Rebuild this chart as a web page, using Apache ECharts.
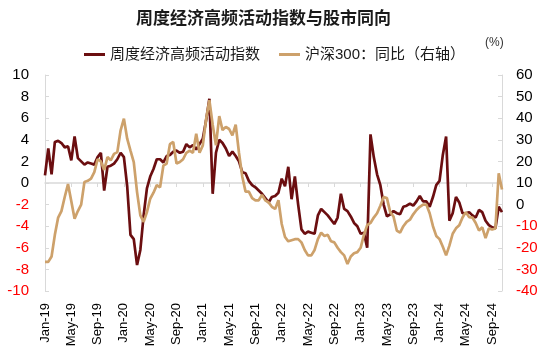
<!DOCTYPE html>
<html><head><meta charset="utf-8">
<script src="https://cdn.jsdelivr.net/npm/echarts@6/dist/echarts.min.js"></script>
<style>html,body{margin:0;padding:0;background:#fff}#c{width:550px;height:356px}</style>
</head><body><div id="c"></div>
<script>
const titleText = '周度经济高频活动指数与股市同向';
const seriesNames = ['周度经济高频活动指数', '沪深300：同比（右轴）'];
const unitText = '(%)';
const monthNames = ['Jan','Feb','Mar','Apr','May','Jun','Jul','Aug','Sep','Oct','Nov','Dec'];
// semi-monthly observation dates, Jan 2019 – mid Oct 2024
const dates = [];
for (let y = 2019; y <= 2024; y++) {
  for (let m = 1; m <= 12; m++) {
    if (y === 2024 && m > 10) break;
    const mm = String(m).padStart(2, '0');
    dates.push(y + '-' + mm + '-01', y + '-' + mm + '-15');
  }
}
const activityIndex = [
  0.7, 3.2, 0.8, 3.8, 3.9, 3.7, 3.3, 3.4, 2.1, 4.3,
  2.3, 2.0, 1.7, 1.9, 1.8, 1.7, 2.4, 2.8, -0.7, 1.5,
  1.6, 1.8, 2.2, 2.8, 2.4, -0.3, -4.8, -5.2, -7.6, -6.2,
  -3.0, -0.5, 0.6, 1.3, 2.2, 2.2, 1.9, 2.5, 2.6, 2.9,
  3.0, 2.8, 2.9, 3.6, 3.3, 3.5, 3.1, 3.6, 4.1, 5.8,
  7.8, -1.0, 2.8, 4.0, 3.7, 3.2, 2.5, 2.9, 2.5, 2.0,
  1.0, 0.9, 0.2, -0.2, -0.4, -0.7, -1.0, -1.4, -1.8, -1.3,
  -1.2, -0.9, 0.4, -0.3, 1.5, -1.5, 0.6, -2.0, -4.3, -4.7,
  -4.5, -4.6, -4.7, -3.0, -2.4, -2.7, -3.0, -3.4, -3.8, -3.2,
  -1.0, -2.4, -2.6, -3.1, -3.7, -4.0, -4.7, -4.6, -6.0, 4.5,
  2.4, 0.8, -0.2, -2.0, -3.1, -2.9, -2.6, -2.8, -2.9, -2.2,
  -2.1, -1.9, -2.1, -1.7, -1.2, -1.7, -1.7, -2.2, -1.3, -0.2,
  0.2, 2.6, 4.3, -3.5, -2.8, -1.3, -1.8, -2.8, -2.8, -2.7,
  -3.0, -3.2, -2.5, -2.7, -3.5, -3.9, -4.1, -4.2, -2.2, -2.7
];
const csi300YoY = [
  -26.5, -26.5, -24, -14, -6, -3, 3.5, 9.5, 1.5, -6.5,
  -3, 0, 10.5, 11, 12, 15, 21, 20, 16, 22,
  20.5, 23.5, 24.3, 34.4, 39.8, 30.5, 25, 19.7, 5.8, -5,
  -8, -3.5, 2.7, 5.5, 9, 8, 18, 19, 28, 29,
  19, 19.7, 21, 24, 25, 24, 32.8, 24, 27.4, 39.5,
  48.3, 37, 27.5, 41, 34.5, 36, 35, 32, 37, 24,
  13, 6, 6, 3, 2, 2, 4.5, 2, 1, -1,
  -2, 2, -9, -15, -17, -16.5, -16, -16, -17.5, -21,
  -23.5, -23.5, -21, -16, -13, -14.5, -14, -17, -17.5, -20,
  -22, -23.5, -27.5, -24, -22.5, -22, -20, -14, -9.5, -8.5,
  -6, -4, -0.5, 3.5, 3, -3.5, -5.5, -12, -13, -10,
  -8, -7, -4.5, -2.5, -1, 0, 0, -4, -10, -14.5,
  -16, -19.5, -23.5, -19, -13.5, -11, -9.6, -6, -3.5, -5.8,
  -6, -8.5, -12, -10.5, -15.5, -11, -11.5, -11, 14.5, 7
];
const leftTicks = { min: -10, max: 10, interval: 2 };
const rightTicks = { min: -40, max: 60, interval: 10 };
const labelEvery = 8; // Jan / May / Sep

const FONT = "'Liberation Sans', Arial, 'Noto Sans CJK SC', sans-serif";
const axisGray = '#D9D9D9';
const negColor = function (v) { return Number(v) < 0 ? '#FF0000' : '#000000'; };

function fmtDate(v) {
  const p = v.split('-');
  return monthNames[parseInt(p[1], 10) - 1] + '-' + p[0].slice(2);
}

const chart = echarts.init(document.getElementById('c'), null, { renderer: 'canvas' });
chart.setOption({
  animation: false,
  backgroundColor: '#fff',
  title: {
    text: titleText, left: 131, top: 6,
    textStyle: { fontFamily: FONT, fontSize: 17, fontWeight: 'bold', color: '#1a1a1a' }
  },
  legend: {
    left: 79, top: 42, itemWidth: 21, itemHeight: 3, itemGap: 19, icon: 'rect',
    textStyle: { fontFamily: FONT, fontSize: 15, color: '#1a1a1a' },
    data: seriesNames
  },
  graphic: [{
    type: 'text', left: 485, top: 37,
    style: { text: unitText, font: "12px 'Liberation Sans', Arial, sans-serif", fill: '#333' }
  }],
  grid: { left: 45, right: 48, top: 75, bottom: 65, containLabel: false },
  xAxis: [{
    type: 'category', data: dates, boundaryGap: false, position: 'bottom',
    axisLine: { show: false, onZero: false },
    axisTick: { show: false },
    axisLabel: {
      interval: labelEvery - 1, rotate: 90, margin: 12,
      fontFamily: "'Liberation Sans Narrow', 'Liberation Sans', Arial, sans-serif", fontSize: 13, color: '#000',
      formatter: fmtDate
    },
    splitLine: { show: false }
  }, {
    type: 'category', data: dates, boundaryGap: false, position: 'bottom',
    axisLine: { show: true, onZero: true, onZeroAxisIndex: 0, lineStyle: { color: axisGray, width: 1.5 } },
    axisTick: { show: true, interval: labelEvery - 1, length: 4, lineStyle: { color: axisGray } },
    axisLabel: { show: false },
    splitLine: { show: false }
  }],
  yAxis: [{
    type: 'value', position: 'left', min: leftTicks.min, max: leftTicks.max, interval: leftTicks.interval,
    axisLine: { show: true, lineStyle: { color: axisGray, width: 1 } },
    axisTick: { show: true, inside: true, length: 4, lineStyle: { color: axisGray } },
    axisLabel: { fontFamily: FONT, fontSize: 15, margin: 16, color: negColor },
    splitLine: { show: false }
  }, {
    type: 'value', position: 'right', min: rightTicks.min, max: rightTicks.max, interval: rightTicks.interval,
    axisLine: { show: true, lineStyle: { color: axisGray, width: 1 } },
    axisTick: { show: true, inside: true, length: 4, lineStyle: { color: axisGray } },
    axisLabel: { fontFamily: FONT, fontSize: 15, margin: 14, color: negColor },
    splitLine: { show: false }
  }],
  series: [{
    name: seriesNames[0], type: 'line', xAxisIndex: 0, yAxisIndex: 0, data: activityIndex,
    showSymbol: false, symbol: 'none', lineStyle: { color: '#6B0E10', width: 2.7 }, itemStyle: { color: '#6B0E10' }
  }, {
    name: seriesNames[1], type: 'line', xAxisIndex: 0, yAxisIndex: 1, data: csi300YoY,
    showSymbol: false, symbol: 'none', lineStyle: { color: '#CDA16B', width: 2.7 }, itemStyle: { color: '#CDA16B' }
  }]
});
</script>
</body></html>
